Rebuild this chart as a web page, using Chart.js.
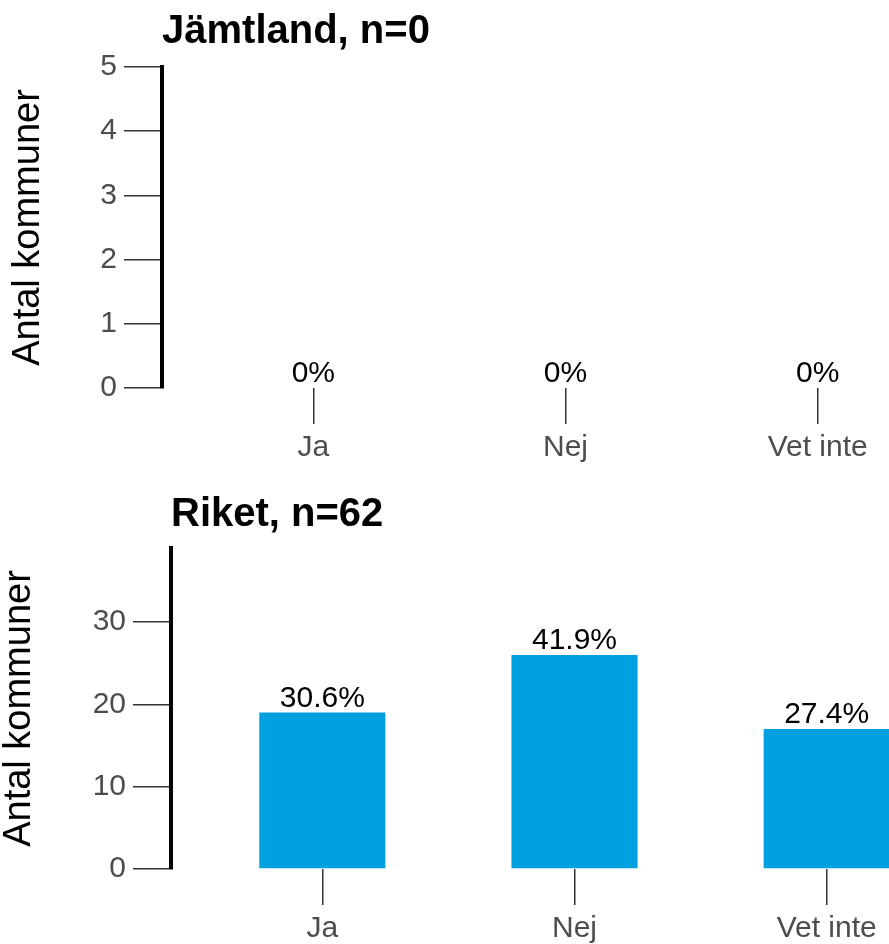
<!DOCTYPE html>
<html>
<head>
<meta charset="utf-8">
<script src="https://cdn.jsdelivr.net/npm/chart.js@4.4.1/dist/chart.umd.min.js"></script>
<style>
  body { margin: 0; background: #fff; }
  .wrap { width: 889px; height: 944px; overflow: hidden; position: relative; }
  .panel { position: absolute; left: 0; }
</style>
</head>
<body>
<div class="wrap">
  <div class="panel" style="top:0"><canvas id="topChart" width="969" height="472"></canvas></div>
  <div class="panel" style="top:472px"><canvas id="bottomChart" width="978" height="472"></canvas></div>
</div>
<script>
const categories = ["Ja", "Nej", "Vet inte"];

const jamtlandValues = [0, 0, 0];
const jamtlandLabels = ["0%", "0%", "0%"];

const riketValues = [19, 26, 17];
const riketLabels = ["30.6%", "41.9%", "27.4%"];

const FONT = '"Liberation Sans", Arial, sans-serif';

// draws the percentage text above each bar
const barLabels = {
  id: "barLabels",
  afterDatasetsDraw(chart, args, opts) {
    const { ctx } = chart;
    const meta = chart.getDatasetMeta(0);
    ctx.save();
    ctx.font = "30px " + FONT;
    ctx.fillStyle = "#000";
    ctx.textAlign = "center";
    ctx.textBaseline = "alphabetic";
    meta.data.forEach((bar, i) => {
      ctx.fillText(opts.labels[i], bar.x, bar.y - 6);
    });
    ctx.restore();
  },
};

function makeChart(id, title, values, labels, cfg) {
  new Chart(document.getElementById(id), {
    type: "bar",
    data: {
      datasets: [
        {
          data: values.map((v, i) => ({ x: i + 1, y: v })),
          backgroundColor: "#00a0e1",
          borderWidth: 0,
          categoryPercentage: 1,
          barPercentage: 0.5,
        },
      ],
    },
    plugins: [barLabels],
    options: {
      responsive: false,
      animation: false,
      layout: { padding: 0 },
      plugins: {
        legend: { display: false },
        tooltip: { enabled: false },
        title: {
          display: true,
          text: title,
          align: "start",
          fullSize: false,
          color: "#000",
          font: { family: FONT, size: 40, weight: "bold" },
          padding: cfg.titlePadding,
        },
        barLabels: { labels: labels },
      },
      scales: {
        x: {
          type: "linear",
          min: 0.4,
          max: 3.6,
          offset: false,
          afterBuildTicks: (scale) => {
            scale.ticks = categories.map((c, i) => ({ value: i + 1 }));
          },
          afterFit: (scale) => {
            scale.height = cfg.xHeight;
          },
          grid: {
            offset: false,
            drawOnChartArea: false,
            tickLength: 36,
            color: "#333",
            lineWidth: 1.5,
          },
          border: { display: false },
          ticks: {
            padding: 6,
            color: "#4d4d4d",
            font: { family: FONT, size: 30 },
            callback: (v) => categories[v - 1],
          },
        },
        y: {
          min: 0,
          max: cfg.yMax,
          afterFit: (scale) => {
            scale.width = cfg.yWidth;
          },
          grid: {
            drawOnChartArea: false,
            tickLength: 38,
            color: "#333",
            lineWidth: 1.5,
          },
          border: { color: "#000", width: 4 },
          ticks: {
            stepSize: cfg.yStep,
            includeBounds: false,
            padding: 7,
            color: "#4d4d4d",
            font: { family: FONT, size: 30 },
          },
          title: {
            display: true,
            text: "Antal kommuner",
            color: "#000",
            font: { family: FONT, size: 38, lineHeight: 1 },
            padding: { top: cfg.yTitlePad, bottom: 0 },
          },
        },
      },
    },
  });
}

makeChart("topChart", "Jämtland, n=0", jamtlandValues, jamtlandLabels, {
  titlePadding: { top: 8, bottom: 11 },
  xHeight: 84,
  yWidth: 162,
  yMax: 5,
  yStep: 1,
  yTitlePad: 10,
});

makeChart("bottomChart", "Riket, n=62", riketValues, riketLabels, {
  titlePadding: { top: 19, bottom: 9 },
  xHeight: 75,
  yWidth: 171,
  yMax: 39,
  yStep: 10,
  yTitlePad: 1,
});
</script>
</body>
</html>
